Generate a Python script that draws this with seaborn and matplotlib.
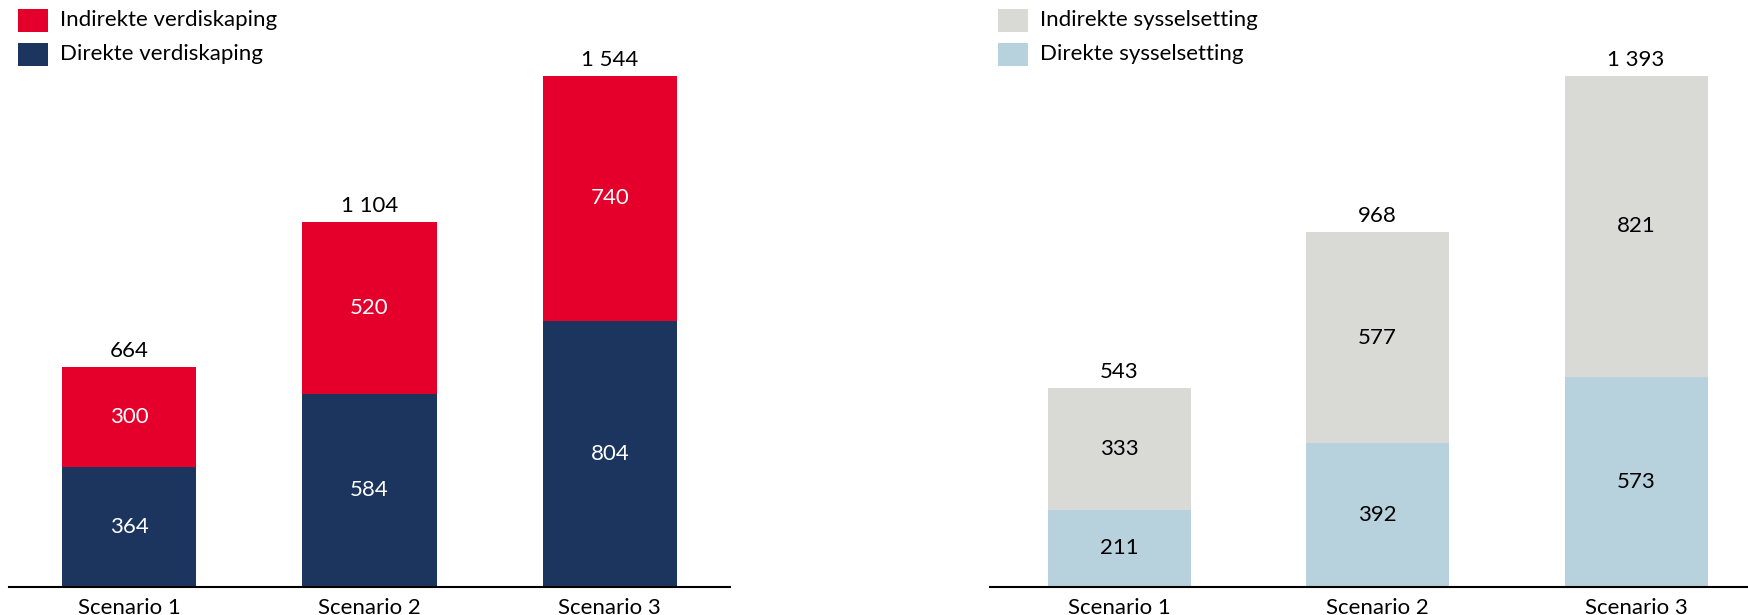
import matplotlib
matplotlib.use("Agg")
import matplotlib.pyplot as plt
from matplotlib.patches import Rectangle
import seaborn as sns
import pandas as pd

# ---- data ----
scenarios = ["Scenario 1", "Scenario 2", "Scenario 3"]
direkte_verdiskaping = [364, 584, 804]
indirekte_verdiskaping = [300, 520, 740]
total_verdiskaping = [664, 1104, 1544]
direkte_sysselsetting = [211, 392, 573]
indirekte_sysselsetting = [333, 577, 821]
total_sysselsetting = [543, 968, 1393]

legend_left = ["Indirekte verdiskaping", "Direkte verdiskaping"]
legend_right = ["Indirekte sysselsetting", "Direkte sysselsetting"]

RED = "#E4002B"
NAVY = "#1C355E"
GREY = "#D9D9D6"
LBLUE = "#B7D2DC"

sns.set_theme(style="white")
plt.rcParams["font.family"] = ["Lato", "DejaVu Sans"]
FS = 16

W, H = 1748, 615
fig = plt.figure(figsize=(W / 100, H / 100), dpi=100)


def fmt(v):
    return f"{v:,}".replace(",", " ")


def draw(ax, direct, indirect, totals, c_dir, c_ind, txt_color, width, xmax):
    df = pd.DataFrame({"scenario": scenarios, "total": totals, "direct": direct})
    sns.barplot(data=df, x="scenario", y="total", color=c_ind, width=width,
                saturation=1, ax=ax, linewidth=0)
    sns.barplot(data=df, x="scenario", y="direct", color=c_dir, width=width,
                saturation=1, ax=ax, linewidth=0)
    for i, (d, ind, t) in enumerate(zip(direct, indirect, totals)):
        ax.text(i, d / 2, fmt(d), ha="center", va="center", color=txt_color, fontsize=FS)
        ax.text(i, (d + t) / 2, fmt(ind), ha="center", va="center", color=txt_color, fontsize=FS)
        ax.annotate(fmt(t), (i, t), xytext=(0, 11.5), textcoords="offset points",
                    ha="center", va="center", color="black", fontsize=FS)
    ax.set_xlim(-0.5, xmax)
    top = max(totals) * 587 / 511
    ax.set_ylim(0, top)
    ax.set_xlabel("")
    ax.set_ylabel("")
    ax.set_yticks([])
    for s in ["top", "right", "left"]:
        ax.spines[s].set_visible(False)
    ax.spines["bottom"].set_color("black")
    ax.spines["bottom"].set_linewidth(1.5)
    ax.tick_params(axis="x", length=0, pad=8, labelsize=FS, colors="black")
    ax.set_facecolor("none")


bottom = 28 / H
height = 1 - bottom
ax1 = fig.add_axes([9 / W, bottom, 721 / W, height])
ax2 = fig.add_axes([990 / W, bottom, (W - 990) / W, height])

draw(ax1, direkte_verdiskaping, indirekte_verdiskaping, total_verdiskaping,
     NAVY, RED, "white", 0.56, 2.5)
draw(ax2, direkte_sysselsetting, indirekte_sysselsetting, total_sysselsetting,
     LBLUE, GREY, "black", 0.553, 2.433)


def legend(x0, labels, colors):
    ys = [9, 43]
    for y, lab, c in zip(ys, labels, colors):
        fig.add_artist(Rectangle((x0 / W, 1 - (y + 23) / H), 30 / W, 23 / H,
                                 transform=fig.transFigure, facecolor=c, edgecolor="none"))
        fig.text((x0 + 42) / W, 1 - (y + 11.5) / H, lab, ha="left", va="center",
                 fontsize=FS, color="black")


legend(18, legend_left, [RED, NAVY])
legend(998, legend_right, [GREY, LBLUE])

fig.savefig("out.png", dpi=100)
